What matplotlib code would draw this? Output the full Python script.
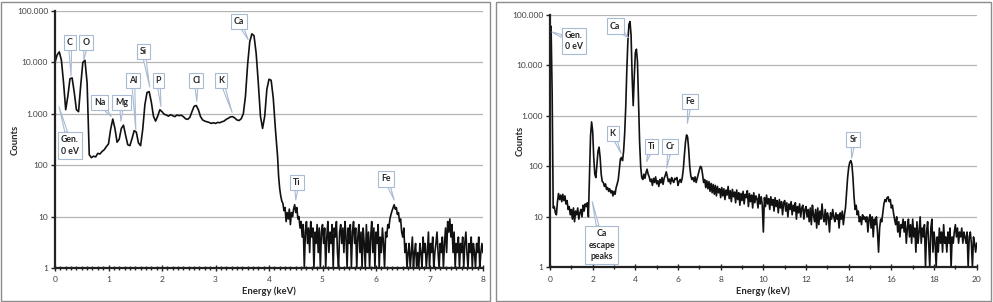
import numpy as np
import matplotlib
matplotlib.use("Agg")
import matplotlib.pyplot as plt
from matplotlib.patches import Rectangle
from matplotlib.ticker import FixedLocator, MultipleLocator, FuncFormatter, NullLocator

plt.rcParams['font.family'] = ['Lato', 'DejaVu Sans']

# left spectrum, 0 - 4.16 keV in 0.04 keV steps
left_counts_low = [
    10000, 14000, 16000, 11000, 4000, 1200, 2200, 4800, 5000, 2600,
    1200, 1100, 3500, 10000, 11000, 4000, 160, 140, 150, 145,
    170, 165, 185, 200, 230, 260, 500, 790, 520, 280,
    320, 520, 600, 380, 250, 240, 330, 470, 440, 270,
    240, 500, 1500, 2600, 2700, 1700, 900, 720, 900, 1200,
    1100, 980, 950, 900, 960, 920, 880, 950, 920, 940,
    880, 800, 780, 850, 1100, 1400, 1450, 1200, 880, 760,
    720, 700, 680, 650, 670, 650, 680, 670, 700, 720,
    780, 820, 870, 880, 830, 760, 740, 800, 1000, 2200,
    9000, 25000, 36000, 33000, 15000, 4000, 900, 520, 900, 3000,
    4700, 4500, 2000, 500, 150,
]
# left spectrum, 4.18 - 8.00 keV in 0.02 keV steps
left_counts_high = [
    60, 35, 25, 20, 18, 13, 15, 8, 12, 9,
    14, 7, 12, 10, 14, 17, 12, 15, 9, 10,
    6, 8, 4, 7, 1, 5, 8, 3, 6, 2,
    8, 4, 6, 1, 5, 3, 7, 2, 6, 1,
    5, 7, 3, 6, 1, 4, 8, 2, 5, 3,
    7, 1, 6, 4, 8, 2, 1, 5, 7, 3,
    6, 2, 8, 4, 1, 6, 3, 7, 1, 5,
    8, 3, 6, 1, 4, 7, 2, 5, 1, 6,
    3, 1, 7, 2, 5, 1, 4, 8, 2, 6,
    1, 5, 3, 7, 1, 4, 2, 6, 3, 1,
    5, 4, 7, 6, 9, 11, 13, 15, 17, 14,
    15, 11, 12, 8, 9, 5, 4, 6, 2, 3,
    1, 2, 3, 1, 2, 4, 1, 2, 3, 1,
    2, 1, 3, 2, 1, 4, 2, 3, 1, 2,
    5, 1, 3, 2, 4, 1, 2, 3, 5, 2,
    1, 3, 2, 4, 1, 3, 6, 2, 8, 5,
    9, 4, 7, 2, 5, 1, 3, 2, 4, 1,
    3, 2, 4, 1, 3, 5, 2, 1, 3, 2,
    4, 1, 3, 2, 1, 3, 2, 4, 1, 2,
    3, 2,
]
# right spectrum, 0 - 20 keV in 0.05 keV steps
right_counts = [
    55000, 60000, 3000, 15, 16, 12, 11, 20, 29, 22, 27, 20, 28, 21, 26, 18, 21, 14, 16, 11,
    14, 9, 15, 8, 13, 11, 15, 9, 12, 14, 10, 17, 13, 18, 16, 19, 10, 60, 400, 760,
    500, 150, 70, 60, 110, 200, 240, 150, 70, 50, 48, 40, 45, 35, 38, 32, 36, 30, 33, 26,
    32, 28, 38, 45, 55, 90, 140, 150, 130, 200, 450, 1500, 8000, 30000, 65000, 74000, 40000, 6000, 1600, 6000,
    18000, 21000, 12000, 2000, 300, 100, 60, 55, 70, 58, 75, 88, 70, 62, 50, 56, 42, 58, 48, 62,
    45, 52, 40, 55, 47, 60, 44, 58, 66, 78, 62, 50, 56, 45, 60, 52, 48, 58, 55, 60,
    42, 50, 55, 48, 60, 90, 170, 300, 420, 380, 220, 100, 65, 55, 60, 50, 62, 48, 58, 70,
    85, 100, 95, 70, 48, 55, 38, 52, 36, 50, 32, 46, 30, 44, 28, 42, 26, 40, 30, 36,
    24, 38, 26, 36, 22, 34, 27, 40, 23, 33, 20, 35, 25, 31, 19, 34, 22, 30, 17, 29,
    21, 32, 18, 28, 24, 33, 16, 29, 20, 27, 15, 30, 19, 26, 23, 15, 28, 18, 25, 17,
    5, 24, 16, 27, 18, 23, 14, 25, 17, 22, 13, 24, 16, 21, 12, 22, 15, 20, 11, 19,
    21, 13, 19, 10, 18, 14, 20, 11, 17, 13, 19, 9, 16, 12, 18, 10, 15, 17, 9, 14,
    16, 10, 14, 8, 15, 7, 17, 11, 8, 14, 6, 15, 7, 13, 9, 18, 10, 8, 14, 7,
    12, 10, 5, 12, 9, 14, 10, 8, 12, 9, 11, 6, 12, 9, 13, 7, 11, 15, 30, 60,
    95, 120, 130, 110, 60, 25, 14, 17, 11, 13, 8, 10, 7, 11, 9, 10, 8, 10, 5, 9,
    11, 6, 10, 4, 9, 7, 10, 5, 2, 6, 9, 8, 12, 18, 22, 20, 24, 25, 20, 22,
    15, 17, 12, 9, 7, 10, 5, 8, 4, 7, 6, 9, 5, 8, 3, 6, 9, 4, 7, 3,
    9, 4, 6, 2, 8, 3, 5, 10, 3, 6, 4, 7, 1, 5, 8, 3, 1, 6, 9, 2,
    5, 3, 1, 4, 2, 6, 3, 5, 2, 7, 3, 4, 2, 5, 3, 6, 1, 4, 3, 5,
    7, 4, 6, 3, 5, 4, 6, 3, 5, 4, 3, 5, 1, 4, 5, 3, 1, 4, 3, 2,
    3,
]

left_energy = np.concatenate([np.arange(len(left_counts_low)) * 0.04,
                              4.18 + np.arange(len(left_counts_high)) * 0.02])
left_counts = np.array(left_counts_low + left_counts_high, dtype=float)
right_energy = np.arange(len(right_counts)) * 0.05

# callouts: label, peak (keV, counts), box centre (keV, counts)
left_callouts = [
    ("Gen.\n0 eV", (0.075, 1380), (0.28, 240)),
    ("C", (0.30, 5500), (0.28, 24300)),
    ("O", (0.54, 11300), (0.58, 24300)),
    ("Na", (1.05, 890), (0.835, 1650)),
    ("Mg", (1.23, 715), (1.25, 1650)),
    ("Al", (1.51, 490), (1.46, 4480)),
    ("Si", (1.77, 3330), (1.65, 16400)),
    ("P", (1.98, 1390), (1.93, 4480)),
    ("Cl", (2.65, 1750), (2.64, 4480)),
    ("K", (3.31, 1065), (3.11, 4480)),
    ("Ca", (3.61, 27800), (3.44, 62400)),
    ("Ti", (4.50, 21), (4.52, 46)),
    ("Fe", (6.34, 21), (6.19, 54)),
]
right_callouts = [
    ("Gen.\n0 eV", (0.09, 46000), (1.12, 30500)),
    ("Ca", (3.67, 35500), (3.06, 60500)),
    ("K", (3.33, 182), (2.94, 444)),
    ("Ti", (4.53, 124), (4.75, 245)),
    ("Cr", (5.47, 92), (5.63, 245)),
    ("Fe", (6.44, 714), (6.55, 1914)),
    ("Sr", (14.14, 145), (14.22, 338)),
    ("Ca\nescape\npeaks", (1.98, 20), (2.43, 2.73)),
]

W, H = 993, 302
fig = plt.figure(figsize=(W / 100, H / 100), dpi=100)

def thousands(v, pos):
    return f"{int(round(v)):,}".replace(",", ".")

def setup(ax, xmax, major, minor):
    ax.set_yscale('log')
    ax.set_ylim(1, 100000)
    ax.set_xlim(0, xmax)
    ax.yaxis.set_major_locator(FixedLocator([1, 10, 100, 1000, 10000, 100000]))
    ax.yaxis.set_minor_locator(NullLocator())
    ax.yaxis.set_major_formatter(FuncFormatter(thousands))
    ax.xaxis.set_major_locator(MultipleLocator(major))
    ax.xaxis.set_minor_locator(MultipleLocator(minor))
    ax.grid(axis='y', color='#b4b4b4', lw=0.9)
    ax.set_axisbelow(True)
    for s in ['top', 'right']:
        ax.spines[s].set_visible(False)
    for s in ['left', 'bottom']:
        ax.spines[s].set_color('#222222')
        ax.spines[s].set_linewidth(1.6)
    ax.tick_params(axis='y', length=3, width=1, color='#222222', labelsize=6,
                   labelcolor='#404040', pad=2)
    ax.tick_params(axis='x', which='major', direction='inout', length=4, width=1,
                   color='#222222', labelsize=6, labelcolor='#404040', pad=4)
    ax.tick_params(axis='x', which='minor', direction='inout', length=2.5, width=1,
                   color='#222222')

def callouts(ax, items):
    for label, tip, box in items:
        ax.annotate(label, xy=tip, xytext=box, ha='center', va='center',
                    fontsize=6.3, fontweight='bold', color='#262626', linespacing=1.35,
                    bbox=dict(boxstyle='square,pad=0.35', fc='white', ec='#a9bbd3', lw=0.8),
                    arrowprops=dict(arrowstyle='wedge,tail_width=0.3,shrink_factor=0.5',
                                    fc='white', ec='#a9bbd3', lw=0.8,
                                    shrinkA=0, shrinkB=0))

ax1 = fig.add_axes([55 / W, 1 - 268 / H, 428 / W, 257 / H])
setup(ax1, 8, 1, 0.1)
ax1.plot(left_energy, left_counts, color='#111111', lw=1.2)
callouts(ax1, left_callouts)

ax2 = fig.add_axes([550 / W, 1 - 267.3 / H, 426.7 / W, 252.3 / H])
setup(ax2, 20, 2, 1)
ax2.plot(right_energy, right_counts, color='#111111', lw=1.2)
callouts(ax2, right_callouts)

for cx, cy in [(15, 140), (520, 141)]:
    fig.text(cx / W, 1 - cy / H, "Counts", rotation=90, ha='center', va='center',
             fontsize=6.8, fontweight='bold', color='#262626')
for cx, cy in [(269, 291), (763, 291)]:
    fig.text(cx / W, 1 - cy / H, "Energy (keV)", ha='center', va='center',
             fontsize=6.8, fontweight='bold', color='#262626')

# chart frames
for x0, w in [(1, 489), (496, 495)]:
    fig.patches.append(Rectangle((x0 / W, 1 / H), w / W, 299 / H, transform=fig.transFigure,
                                 fill=False, ec='#8c8c8c', lw=1))

fig.savefig("out.png", dpi=100)
